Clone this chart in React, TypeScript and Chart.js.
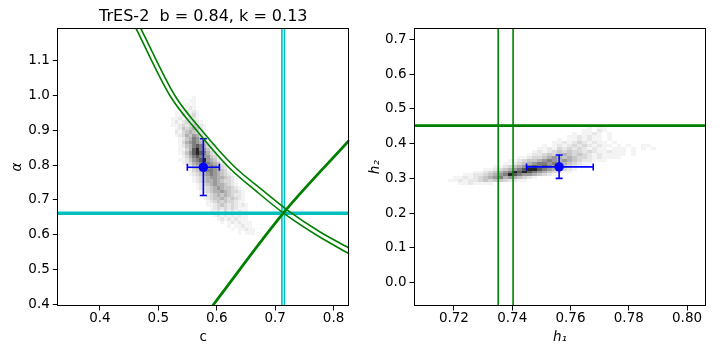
import React, { useEffect, useRef } from "react";
import { Chart, registerables } from "chart.js";
Chart.register(...registerables);

// ---------------- Left panel data (c vs alpha) ----------------
const cRange = [0.327, 0.827];
const alphaRange = [0.395, 1.194];
const cTicks = [0.4, 0.5, 0.6, 0.7, 0.8];
const alphaTicks = [0.4, 0.5, 0.6, 0.7, 0.8, 0.9, 1.0, 1.1];

const innerCurveC = [0.4617, 0.52, 0.5657, 0.62, 0.67, 0.7132, 0.77, 0.8274];
const innerCurveAlpha = [1.194, 1.0, 0.9, 0.795, 0.722, 0.6636, 0.6, 0.5447];
const outerCurveC = [0.4698, 0.5285, 0.5745, 0.6295, 0.68, 0.7215, 0.777, 0.8274];
const outerCurveAlpha = [1.194, 1.0, 0.9, 0.797, 0.726, 0.67, 0.608, 0.5612];
const thickLineC = [0.5925, 0.7137, 0.8274];
const thickLineAlpha = [0.395, 0.6617, 0.8728];
const cyanVerticalC = [0.7116, 0.7159];
const cyanHorizontalAlpha = 0.6617;

const leftPoint = { c: 0.5771, alpha: 0.794 };
const leftErrC = [0.5497, 0.6046];
const leftErrAlpha = [0.713, 0.876];

// 2D histogram: rows from alpha 0.99 (top) down to 0.60, cells from c = 0.51 step 0.006
const leftHistC0 = 0.51;
const leftHistDc = 0.006;
const leftHistAlphaTop = 0.99;
const leftHistDa = 0.01;
const leftHistRows = [
  "000000001000000000000000000",
  "000000011000000000000000000",
  "000000101000000000000000000",
  "000010121000000000000000000",
  "000101212100000000000000000",
  "000112123100000000000000000",
  "001121232100000000000000000",
  "001212323210000000000000000",
  "001123234321000000000000000",
  "000124345421000000000000000",
  "000213454321000000000000000",
  "000123546532000000000000000",
  "000012457643100000000000000",
  "000013567654210000000000000",
  "000012457875321000000000000",
  "000011358976421000000000000",
  "000012468987532100000000000",
  "000001357876643100000000000",
  "000011246789654210000000000",
  "000001235678765421000000000",
  "000000124567676532100000000",
  "000000013456776543100000000",
  "000000012345676543210000000",
  "000000001234566554321000000",
  "000000001234556543321000000",
  "000000000123456554321000000",
  "000000000122345654432100000",
  "000000000012345565433210000",
  "000000000011234545432210000",
  "000000000001234454343210000",
  "000000000000123434332110000",
  "000000000000112343232121000",
  "000000000000012323232111000",
  "000000000000011213121211000",
  "000000000000001212121211000",
  "000000000000000121212111000",
  "000000000000000010121211100",
  "000000000000000000101121100",
  "000000000000000000010112110",
  "000000000000000000000101110",
];

// ---------------- Right panel data (h1 vs h2) ----------------
const h1Range = [0.7063, 0.8065];
const h2Range = [-0.067, 0.7315];
const h1Ticks = [0.72, 0.74, 0.76, 0.78, 0.8];
const h2Ticks = [0.0, 0.1, 0.2, 0.3, 0.4, 0.5, 0.6, 0.7];

const greenVerticalH1 = [0.7352, 0.7403];
const greenHorizontalH2 = 0.4516;

const rightPoint = { h1: 0.7561, h2: 0.333 };
const rightErrH1 = [0.7449, 0.7678];
const rightErrH2 = [0.3, 0.367];

const rightHistH10 = 0.718;
const rightHistDh1 = 0.0017;
const rightHistH20 = 0.28;
const rightHistDh2 = 0.0085;
const rightHistRowIndex = [19, 18, 17, 16, 15, 14, 13, 12, 11, 10, 9, 8, 7, 6, 5, 4, 3, 2, 1, 0];
const rightHistRowStart = [28, 27, 25, 24, 22, 21, 19, 18, 17, 16, 14, 12, 11, 9, 7, 5, 3, 1, 0, 2];
const rightHistRows = [
  "10110",
  "11021",
  "10112101",
  "112121101",
  "10112121101",
  "1121232121101",
  "1012123232121101010011",
  "112132323212110111010101",
  "121234343323211211101",
  "1223434543432121111101",
  "112334565454332121111",
  "11234456765654322111",
  "112345677676543211",
  "1123456787876543211",
  "1123456789987654321",
  "11234567989876543211",
  "1122345679876654321",
  "11212345675654321",
  "1121223434432211",
  "1121111",
];

const GREYS = ["#ffffff", "#f4f4f4", "#e7e7e7", "#d8d8d8", "#c7c7c7", "#b2b2b2", "#9a9a9a", "#7f7f7f", "#5c5c5c", "#262626"];
const FONT = "'DejaVu Sans', sans-serif";
const BLUE = "#0000ff";
const GREEN = "#008000";
const CYAN = "#00bfbf";

function histPlugin(id: string, x0: number, dx: number, y0: number, dy: number, rowIdx: number[], rowStart: number[], rows: string[]) {
  return {
    id,
    beforeDatasetsDraw(chart: any) {
      const { ctx, chartArea: a, scales } = chart;
      const xs = scales.x, ys = scales.y;
      ctx.save();
      ctx.beginPath();
      ctx.rect(a.left, a.top, a.right - a.left, a.bottom - a.top);
      ctx.clip();
      rows.forEach((cells, r) => {
        const yb = y0 + rowIdx[r] * dy;
        const pyTop = Math.round(ys.getPixelForValue(yb + dy));
        const pyBot = Math.round(ys.getPixelForValue(yb));
        for (let i = 0; i < cells.length; i++) {
          const v = +cells[i];
          if (!v) continue;
          const xl = x0 + (rowStart[r] + i) * dx;
          const px0 = Math.round(xs.getPixelForValue(xl));
          const px1 = Math.round(xs.getPixelForValue(xl + dx));
          ctx.fillStyle = GREYS[v];
          ctx.fillRect(px0, pyTop, px1 - px0, pyBot - pyTop);
        }
      });
      ctx.restore();
    },
  };
}

const framePlugin = {
  id: "frame",
  afterDatasetsDraw(chart: any) {
    const { ctx, chartArea: a } = chart;
    ctx.save();
    ctx.strokeStyle = "#000";
    ctx.lineWidth = 1;
    const l = Math.round(a.left) + 0.5, t = Math.round(a.top) + 0.5;
    const r = Math.round(a.right) - 0.5, b = Math.round(a.bottom) - 0.5;
    ctx.strokeRect(l, t, r - l, b - t);
    ctx.restore();
  },
};

const zip = (xs: number[], ys: number[]) => xs.map((x, i) => ({ x, y: ys[i] }));

function lineDs(data: any[], color: string, width: number, smooth = false) {
  return {
    data,
    borderColor: color,
    backgroundColor: color,
    borderWidth: width,
    pointRadius: 0,
    showLine: true,
    fill: false,
    cubicInterpolationMode: smooth ? "monotone" : "default",
    tension: 0,
  };
}

function errorDatasets(px: number, py: number, xErr: number[], yErr: number[]) {
  return [
    {
      data: [{ x: xErr[0], y: py }, { x: xErr[1], y: py }],
      borderColor: BLUE, backgroundColor: BLUE, borderWidth: 1.6, showLine: true,
      pointStyle: "line", pointRadius: 3.5, pointRotation: 90, pointBorderColor: BLUE, pointBorderWidth: 1.6,
    },
    {
      data: [{ x: px, y: yErr[0] }, { x: px, y: yErr[1] }],
      borderColor: BLUE, backgroundColor: BLUE, borderWidth: 1.6, showLine: true,
      pointStyle: "line", pointRadius: 3.5, pointRotation: 0, pointBorderColor: BLUE, pointBorderWidth: 1.6,
    },
    {
      data: [{ x: px, y: py }],
      showLine: false, pointStyle: "circle", pointRadius: 4.7,
      pointBackgroundColor: BLUE, pointBorderColor: BLUE, pointBorderWidth: 0, borderColor: BLUE, backgroundColor: BLUE,
    },
  ];
}

function axis(range: number[], ticks: number[], decimals: number, title: string, isX: boolean, size: number, titlePad: any) {
  return {
    type: "linear",
    min: range[0],
    max: range[1],
    afterBuildTicks: (scale: any) => {
      scale.ticks = ticks.map((v) => ({ value: v }));
    },
    afterFit: (scale: any) => {
      if (isX) scale.height = size;
      else scale.width = size;
    },
    border: { display: false },
    grid: { display: true, drawOnChartArea: false, drawTicks: true, tickLength: 4.5, tickWidth: 1, tickColor: "#000" },
    ticks: {
      autoSkip: false,
      maxRotation: 0,
      minRotation: 0,
      padding: isX ? 0 : 3,
      color: "#000",
      font: { family: FONT, size: 13.5 },
      callback: (v: any) => Number(v).toFixed(decimals),
    },
    title: {
      display: true,
      text: title,
      color: "#000",
      font: { family: FONT, size: 13.5, style: title === "c" ? "normal" : "italic" },
      padding: titlePad,
    },
  };
}

export default function App() {
  const leftRef = useRef<HTMLCanvasElement>(null);
  const rightRef = useRef<HTMLCanvasElement>(null);

  useEffect(() => {
    const leftDatasets: any[] = [
      lineDs(zip(innerCurveC, innerCurveAlpha), GREEN, 1.6, true),
      lineDs(zip(outerCurveC, outerCurveAlpha), GREEN, 1.6, true),
      lineDs(zip(thickLineC, thickLineAlpha), GREEN, 2.8, true),
      ...cyanVerticalC.map((c) => lineDs([{ x: c, y: alphaRange[0] }, { x: c, y: alphaRange[1] }], CYAN, 1.6)),
      lineDs([{ x: cRange[0], y: cyanHorizontalAlpha }, { x: cRange[1], y: cyanHorizontalAlpha }], CYAN, 3.4),
      ...errorDatasets(leftPoint.c, leftPoint.alpha, leftErrC, leftErrAlpha),
    ];
    const leftChart = new Chart(leftRef.current as HTMLCanvasElement, {
      type: "line",
      data: { datasets: leftDatasets },
      options: {
        responsive: false,
        animation: false,
        devicePixelRatio: 1,
        layout: { padding: { top: 0, right: 10.7, bottom: 0, left: 0 } },
        plugins: {
          legend: { display: false },
          tooltip: { enabled: false },
          title: {
            display: true,
            text: "TrES-2  b = 0.84, k = 0.13",
            color: "#000",
            fullSize: false,
            font: { family: FONT, size: 16, weight: "normal" },
            padding: { top: 7, bottom: 2.1 },
          },
        },
        scales: {
          x: axis(cRange, cTicks, 1, "c", true, 54, { top: 0, bottom: 14 }),
          y: axis(alphaRange, alphaTicks, 1, "α", false, 57.3, { top: 9, bottom: 0 }),
        },
      } as any,
      plugins: [
        histPlugin(
          "leftHist",
          leftHistC0,
          leftHistDc,
          leftHistAlphaTop - (leftHistRows.length - 1) * leftHistDa,
          leftHistDa,
          leftHistRows.map((_, i) => leftHistRows.length - 1 - i),
          leftHistRows.map(() => 0),
          leftHistRows
        ),
        framePlugin,
      ],
    });

    const rightDatasets: any[] = [
      ...greenVerticalH1.map((h) => lineDs([{ x: h, y: h2Range[0] }, { x: h, y: h2Range[1] }], GREEN, 1.6)),
      lineDs([{ x: h1Range[0], y: greenHorizontalH2 }, { x: h1Range[1], y: greenHorizontalH2 }], GREEN, 2.8),
      ...errorDatasets(rightPoint.h1, rightPoint.h2, rightErrH1, rightErrH2),
    ];
    const rightChart = new Chart(rightRef.current as HTMLCanvasElement, {
      type: "line",
      data: { datasets: rightDatasets },
      options: {
        responsive: false,
        animation: false,
        devicePixelRatio: 1,
        layout: { padding: { top: 28.3, right: 14, bottom: 0, left: 0 } },
        plugins: { legend: { display: false }, tooltip: { enabled: false } },
        scales: {
          x: axis(h1Range, h1Ticks, 2, "h₁", true, 54, { top: 0, bottom: 14 }),
          y: axis(h2Range, h2Ticks, 1, "h₂", false, 54, { top: 7, bottom: 0 }),
        },
      } as any,
      plugins: [
        histPlugin("rightHist", rightHistH10, rightHistDh1, rightHistH20, rightHistDh2, rightHistRowIndex, rightHistRowStart, rightHistRows),
        framePlugin,
      ],
    });

    return () => {
      leftChart.destroy();
      rightChart.destroy();
    };
  }, []);

  return (
    <div style={{ position: "fixed", left: 0, top: 0, width: 720, height: 360, background: "#fff" }}>
      <canvas ref={leftRef} width={360} height={360} style={{ position: "absolute", left: 0, top: 0 }} />
      <canvas ref={rightRef} width={360} height={360} style={{ position: "absolute", left: 360, top: 0 }} />
    </div>
  );
}
